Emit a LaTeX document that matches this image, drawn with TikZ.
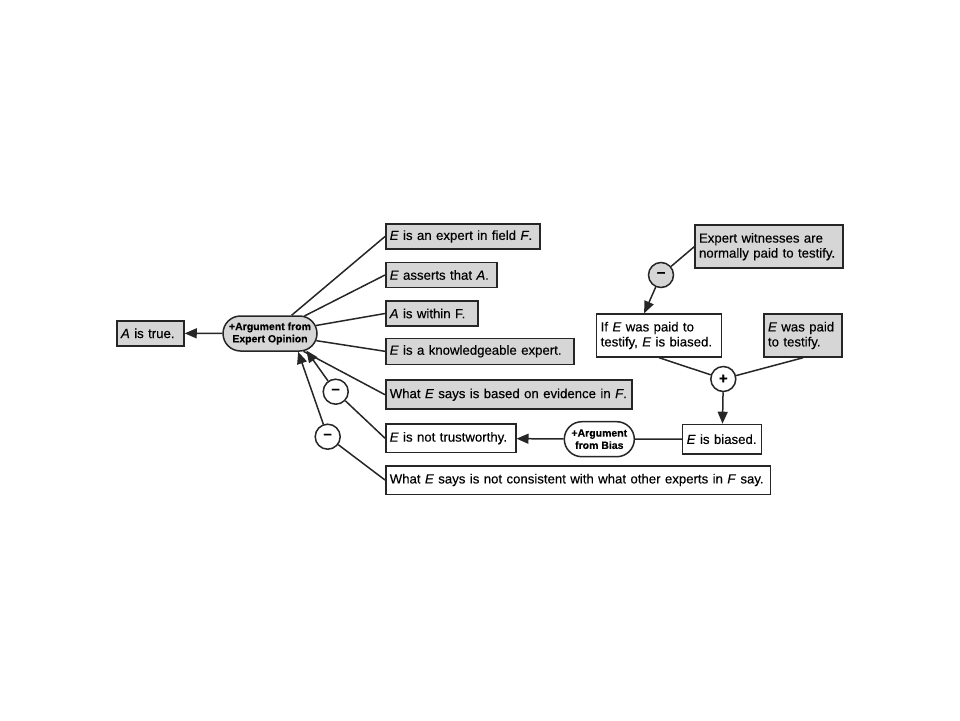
\documentclass[tikz,border=0pt]{standalone}
\usepackage{fontspec}
\setmainfont[FakeBold=0.3]{Liberation Sans}
\usetikzlibrary{arrows.meta,shapes.misc,calc}

\tikzset{
  claim/.style={draw=black!85,line width=1.5pt,fill=white,inner xsep=4pt,inner ysep=3pt,align=left,
    font=\fontsize{13.2}{15}\selectfont,minimum height=25pt},
  given/.style={claim,fill=black!16},
  scheme/.style={draw=black!85,line width=1.5pt,rounded rectangle,minimum height=35pt,inner xsep=2pt,
    align=center,font=\fontsize{10.5}{12.3}\selectfont\bfseries},
  sign/.style={draw=black!85,line width=1.5pt,circle,minimum size=25pt,inner sep=0pt,fill=white,
    font=\fontsize{15}{15}\selectfont\bfseries},
  link/.style={draw=black!85,line width=1.5pt},
  arr/.style={link,-{Triangle[length=12pt,width=10pt]}}
}

\begin{document}
\begin{tikzpicture}[x=1pt,y=1pt]
\useasboundingbox (0,0) rectangle (960,-720);
%\draw[red] (0,0) rectangle (960,-720);
\node[given,text width=59pt] (atrue) at (150.5,-333.3) {\textit{A} is true.};
\node[scheme,fill=black!16,minimum width=98pt] (argexp) at (270,-333.5) {+Argument from\\Expert Opinion};
\node[given,anchor=west,text width=146pt] (field) at (385,-236.5) {\textit{E} is an expert in field \textit{F}.};
\node[given,anchor=west,text width=103pt] (asserts) at (385,-275) {\textit{E} asserts that \textit{A}.};
\node[given,anchor=west,text width=84pt] (within) at (385,-313.5) {\textit{A} is within F.};
\node[given,anchor=west,text width=180pt,minimum height=26pt] (knows) at (385,-351.3) {\textit{E} is a knowledgeable expert.};
\node[given,anchor=west,text width=238pt,minimum height=29pt] (evid) at (385,-394.7) {What \textit{E} says is based on evidence in \textit{F}.};
\node[claim,anchor=west,text width=122pt,minimum height=28.5pt] (trust) at (385,-438.2) {\textit{E} is not trustworthy.};
\node[claim,anchor=west,text width=376.5pt,minimum height=28.5pt] (consist) at (385,-480) {What \textit{E} says is not consistent with what other experts in \textit{F} say.};
\node[sign] (minA) at (335.7,-391.7) {\symbol{"2212}};
\node[sign] (minB) at (327.7,-436.7) {\symbol{"2212}};
\node[scheme,fill=white,minimum width=74pt] (argbias) at (599.3,-439.2) {+Argument\\from Bias};
\node[claim,text width=71pt,minimum height=29.5pt] (biased) at (722.2,-439.2) {\textit{E} is biased.};
\node[sign] (plusA) at (723.3,-379) {+};
\node[claim,text width=117pt,minimum height=43pt] (ifpaid) at (659.2,-335.5) {If \textit{E} was paid to\\testify, \textit{E} is biased.};
\node[given,text width=70pt,minimum height=43pt] (waspaid) at (803,-335.5) {\textit{E} was paid\\to testify.};
\node[given,text width=140pt,minimum height=43pt] (paidnorm) at (769,-246.7) {Expert witnesses are\\normally paid to testify.};
\node[sign,fill=black!16] (minC) at (661,-275) {\symbol{"2212}};
\draw[arr] (argexp) -- (atrue);
\foreach \b in {field,asserts,within,knows,evid}
  \draw[link] (argexp) -- (\b.west);
\draw[link] (trust.west) -- (minA);
\draw[arr] (minA) -- (argexp.-25);
\draw[link] (consist.west) -- (minB);
\draw[arr] (minB) -- (argexp.-33);
\draw[link] (biased) -- (argbias);
\draw[arr] (argbias) -- (trust);
\draw[link] (ifpaid.south) -- (plusA);
\draw[link] (waspaid.south) -- (plusA);
\draw[arr] (plusA) -- (biased);
\draw[link] (paidnorm.west) -- (minC);
\draw[arr] (minC) -- ($(ifpaid.north)+(-15,0)$);
\end{tikzpicture}
\end{document}
